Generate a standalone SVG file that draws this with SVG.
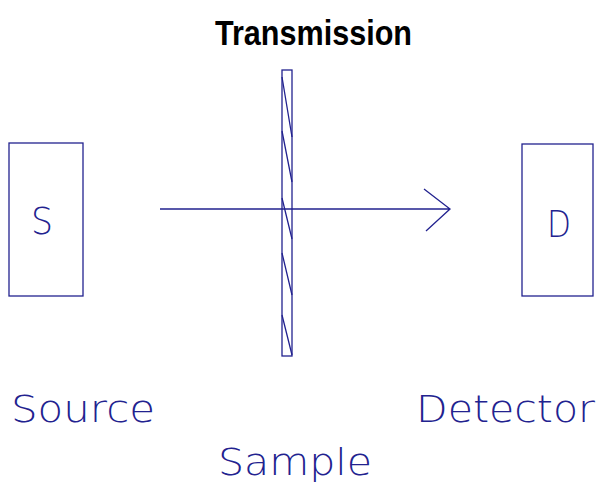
<svg xmlns="http://www.w3.org/2000/svg" width="598" height="483" viewBox="0 0 598 483">
<style>
.ln{fill:none;stroke:#22228f;stroke-width:1.3}
.lbl{font-family:"DejaVu Sans","Liberation Sans",sans-serif;font-weight:200;fill:#22228f}
.ttl{font-family:"Liberation Sans",Arial,sans-serif;font-weight:bold;fill:#000}
</style>
<rect width="598" height="483" fill="#fff"/>
<text class="ttl" x="215" y="45" font-size="35" textLength="197" lengthAdjust="spacingAndGlyphs">Transmission</text>
<g id="source">
<rect class="ln" x="9" y="143" width="74" height="153"/>
<text class="lbl" x="31" y="234" font-size="38" textLength="22" lengthAdjust="spacingAndGlyphs">S</text>
<text class="lbl" x="11" y="422" font-size="38" textLength="144" lengthAdjust="spacingAndGlyphs">Source</text>
</g>
<g id="sample">
<rect class="ln" x="282" y="70" width="10" height="286"/>
<path class="ln" d="M282,77L292,137M282,131L292,182M282,198L292,239M282,253L292,295M282,315L292,355"/>
<text class="lbl" x="218" y="475" font-size="38" textLength="154" lengthAdjust="spacingAndGlyphs">Sample</text>
</g>
<g id="detector">
<rect class="ln" x="522" y="144" width="71" height="152"/>
<text class="lbl" x="547" y="237" font-size="38" textLength="24" lengthAdjust="spacingAndGlyphs">D</text>
<text class="lbl" x="416" y="422" font-size="38" textLength="179" lengthAdjust="spacingAndGlyphs">Detector</text>
</g>
<g id="connectors">
<path class="ln" d="M160,209H450M424,189L450,209L426,231"/>
</g>
</svg>
